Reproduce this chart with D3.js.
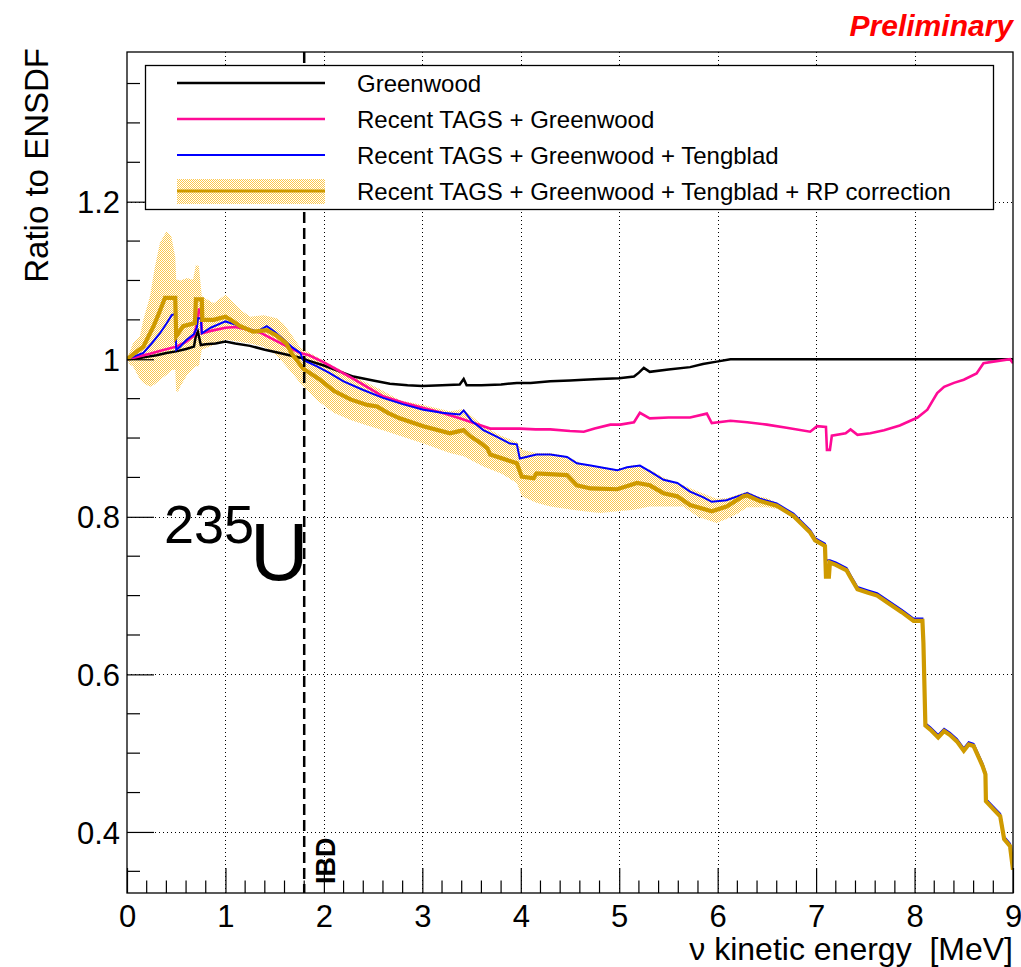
<!DOCTYPE html>
<html>
<head>
<meta charset="utf-8">
<script src="https://cdn.jsdelivr.net/npm/d3@7"></script>
<style>
  html, body { margin: 0; padding: 0; background: #fff; }
  svg { display: block; font-family: "Liberation Sans", Arial, Helvetica, sans-serif; }
</style>
</head>
<body>
<svg id="chart" width="1021" height="967"></svg>
<script>
// ---------------- DATA ----------------
const xTickValues = [0, 1, 2, 3, 4, 5, 6, 7, 8, 9];
const yTickValues = [0.4, 0.6, 0.8, 1.0, 1.2];
const yTickLabels = ["0.4", "0.6", "0.8", "1", "1.2"];
const legendLabels = [
  "Greenwood",
  "Recent TAGS + Greenwood",
  "Recent TAGS + Greenwood + Tengblad",
  "Recent TAGS + Greenwood + Tengblad + RP correction"
];
const ibdThreshold = 1.8;

// [energy MeV, ratio]
const greenwood = [[0,1.000],[0.1,1.001],[0.2,1.003],[0.3,1.005],[0.4,1.008],[0.5,1.010],[0.6,1.013],[0.68,1.016],[0.70,1.030],[0.72,1.035],[0.75,1.018],[0.8,1.019],[0.9,1.020],[1.0,1.0225],[1.1,1.020],[1.25,1.017],[1.4,1.012],[1.55,1.008],[1.65,1.005],[1.76,1.002],[1.85,0.998],[2.0,0.992],[2.15,0.985],[2.3,0.978],[2.5,0.973],[2.67,0.969],[2.85,0.967],[3.0,0.966],[3.2,0.967],[3.38,0.968],[3.42,0.975],[3.45,0.967],[3.6,0.967],[3.8,0.968],[3.96,0.970],[4.1,0.970],[4.3,0.972],[4.5,0.973],[4.64,0.974],[4.8,0.975],[5.0,0.976],[5.15,0.978],[5.2,0.983],[5.25,0.989],[5.31,0.984],[5.5,0.987],[5.72,0.990],[5.85,0.994],[5.99,0.997],[6.13,1.000],[9.0,1.000]];

const tagsGreenwood = [[0,1.0],[0.1,1.003],[0.234,1.007],[0.35,1.011],[0.5,1.016],[0.6,1.022],[0.68,1.030],[0.71,1.045],[0.73,1.063],[0.75,1.063],[0.76,1.033],[0.85,1.036],[1.0,1.040],[1.1,1.041],[1.25,1.037],[1.35,1.034],[1.49,1.025],[1.6,1.018],[1.76,1.008],[1.85,1.005],[2.0,0.996],[2.13,0.987],[2.3,0.975],[2.45,0.964],[2.6,0.953],[2.8,0.945],[3.01,0.938],[3.2,0.932],[3.38,0.925],[3.5,0.920],[3.62,0.915],[3.69,0.912],[3.99,0.912],[4.15,0.911],[4.30,0.911],[4.5,0.909],[4.64,0.908],[4.75,0.912],[4.91,0.917],[5.01,0.917],[5.15,0.920],[5.21,0.932],[5.31,0.925],[5.5,0.926],[5.72,0.926],[5.89,0.931],[5.94,0.919],[6.13,0.922],[6.3,0.920],[6.5,0.917],[6.7,0.913],[6.94,0.908],[7.01,0.915],[7.1,0.914],[7.11,0.885],[7.14,0.885],[7.16,0.903],[7.3,0.906],[7.35,0.911],[7.42,0.904],[7.55,0.906],[7.69,0.910],[7.85,0.916],[8.03,0.926],[8.13,0.936],[8.23,0.957],[8.3,0.965],[8.4,0.970],[8.5,0.974],[8.63,0.982],[8.70,0.995],[8.8,0.997],[8.97,1.0],[9.0,0.995]];

const tagsGreenwoodTengblad = [[0,1.0],[0.08,1.004],[0.166,1.008],[0.25,1.020],[0.335,1.033],[0.4,1.045],[0.454,1.056],[0.48,1.057],[0.49,1.057],[0.50,1.012],[0.54,1.016],[0.6,1.024],[0.68,1.032],[0.71,1.040],[0.72,1.052],[0.75,1.052],[0.76,1.033],[0.85,1.040],[1.0,1.048],[1.15,1.042],[1.32,1.035],[1.42,1.042],[1.5,1.035],[1.59,1.025],[1.68,1.015],[1.76,1.008],[1.79,0.999],[1.93,0.991],[2.05,0.983],[2.20,0.972],[2.4,0.961],[2.60,0.951],[2.8,0.943],[3.01,0.936],[3.2,0.932],[3.38,0.930],[3.42,0.935],[3.5,0.922],[3.62,0.910],[3.75,0.902],[3.89,0.893],[3.96,0.892],[3.99,0.874],[4.16,0.879],[4.30,0.879],[4.47,0.876],[4.57,0.868],[4.71,0.865],[4.85,0.862],[4.98,0.859],[5.08,0.863],[5.21,0.865],[5.32,0.857],[5.45,0.847],[5.59,0.843],[5.72,0.832],[5.85,0.825],[5.94,0.819],[6.09,0.821],[6.2,0.826],[6.30,0.830],[6.43,0.823],[6.60,0.817],[6.77,0.804],[6.94,0.783],[6.99,0.773],[7.09,0.766],[7.10,0.745],[7.14,0.745],[7.2,0.742],[7.31,0.735],[7.35,0.726],[7.42,0.711],[7.52,0.707],[7.62,0.703],[7.75,0.692],[7.87,0.682],[7.99,0.671],[8.08,0.671],[8.09,0.643],[8.11,0.538],[8.16,0.533],[8.24,0.523],[8.30,0.531],[8.36,0.526],[8.43,0.518],[8.50,0.506],[8.55,0.514],[8.60,0.512],[8.69,0.487],[8.72,0.476],[8.725,0.442],[8.80,0.432],[8.87,0.423],[8.91,0.394],[8.97,0.385],[9.0,0.355]];

const rpCorrected = [[0,1.0],[0.08,1.008],[0.166,1.016],[0.27,1.042],[0.33,1.060],[0.386,1.078],[0.49,1.078],[0.50,1.029],[0.57,1.042],[0.69,1.046],[0.70,1.076],[0.76,1.076],[0.765,1.050],[0.88,1.050],[1.0,1.054],[1.08,1.048],[1.15,1.042],[1.28,1.035],[1.42,1.037],[1.52,1.030],[1.62,1.020],[1.67,1.008],[1.79,0.988],[1.95,0.975],[2.10,0.960],[2.27,0.949],[2.44,0.942],[2.54,0.940],[2.65,0.932],[2.77,0.925],[3.01,0.915],[3.28,0.906],[3.42,0.910],[3.49,0.902],[3.6,0.893],[3.66,0.887],[3.69,0.879],[3.96,0.868],[4.01,0.851],[4.13,0.849],[4.16,0.855],[4.47,0.853],[4.57,0.840],[4.71,0.836],[4.98,0.835],[5.18,0.843],[5.31,0.840],[5.45,0.830],[5.59,0.826],[5.72,0.815],[5.94,0.807],[6.09,0.813],[6.26,0.826],[6.30,0.827],[6.43,0.820],[6.60,0.814],[6.77,0.801],[6.94,0.780],[6.99,0.770],[7.09,0.763],[7.10,0.724],[7.13,0.724],[7.14,0.742],[7.2,0.739],[7.31,0.732],[7.35,0.723],[7.42,0.708],[7.52,0.704],[7.62,0.700],[7.75,0.689],[7.87,0.679],[7.99,0.668],[8.08,0.668],[8.09,0.640],[8.11,0.535],[8.16,0.530],[8.24,0.520],[8.30,0.528],[8.36,0.523],[8.43,0.515],[8.50,0.503],[8.55,0.511],[8.60,0.509],[8.69,0.484],[8.72,0.473],[8.725,0.439],[8.80,0.429],[8.87,0.420],[8.91,0.391],[8.97,0.382],[9.0,0.352]];

// uncertainty band of the RP-corrected curve: [energy, low, high]
const rpBand = [[0,1.0,1.0],[0.03,0.993,1.010],[0.06,0.991,1.020],[0.13,0.975,1.029],[0.166,0.970,1.050],[0.234,0.965,1.080],[0.28,0.968,1.115],[0.335,0.974,1.148],[0.40,0.980,1.162],[0.45,0.986,1.156],[0.49,0.987,1.130],[0.50,0.959,1.101],[0.52,0.959,1.101],[0.54,0.965,1.100],[0.61,0.980,1.103],[0.67,0.988,1.101],[0.70,0.991,1.120],[0.73,0.991,1.118],[0.76,1.012,1.080],[0.88,1.018,1.071],[1.0,1.025,1.082],[1.15,1.022,1.063],[1.25,1.020,1.054],[1.39,1.016,1.056],[1.52,1.005,1.052],[1.59,0.995,1.045],[1.66,0.985,1.033],[1.76,0.970,1.015],[1.93,0.948,1.003],[2.10,0.932,0.991],[2.27,0.923,0.980],[2.44,0.916,0.970],[2.60,0.910,0.960],[2.77,0.903,0.948],[3.01,0.893,0.942],[3.28,0.881,0.934],[3.42,0.877,0.937],[3.62,0.864,0.915],[3.80,0.855,0.903],[3.96,0.843,0.895],[4.01,0.826,0.885],[4.16,0.818,0.881],[4.30,0.813,0.881],[4.47,0.810,0.877],[4.64,0.807,0.866],[4.81,0.805,0.864],[4.98,0.807,0.860],[5.15,0.809,0.866],[5.31,0.813,0.860],[5.45,0.813,0.850],[5.65,0.813,0.840],[5.80,0.800,0.832],[5.99,0.792,0.823],[6.10,0.798,0.824],[6.20,0.804,0.828],[6.30,0.812,0.832],[6.40,0.812,0.826],[6.50,0.812,0.824],[6.60,0.810,0.818]];

// ---------------- LAYOUT ----------------
const W = 1021, H = 967;
const L = 127, R = 1013, T = 52, B = 893;
const colors = { black: "#000000", pink: "#ff0a96", blue: "#0000ff", gold: "#cf9a00", band: "#fcc84e" };
const FONT = '"Liberation Sans", Arial, Helvetica, sans-serif';

const svg = d3.select("#chart");
const x = d3.scaleLinear().domain([0, 9]).range([L, R]);
const y = d3.scaleLinear().domain([0.3225, 1.39]).range([B, T]);

const defs = svg.append("defs");
const pat = defs.append("pattern").attr("id", "hatch").attr("patternUnits", "userSpaceOnUse")
  .attr("width", 2).attr("height", 2);
pat.append("rect").attr("width", 2).attr("height", 2).attr("fill", "#fff");
pat.append("rect").attr("x", 0).attr("y", 0).attr("width", 1).attr("height", 1).attr("fill", colors.band).attr("shape-rendering", "crispEdges");
pat.append("rect").attr("x", 1).attr("y", 1).attr("width", 1).attr("height", 1).attr("fill", colors.band).attr("shape-rendering", "crispEdges");
defs.append("clipPath").attr("id", "plotclip").append("rect")
  .attr("x", L).attr("y", T).attr("width", R - L).attr("height", B - T);

svg.append("rect").attr("width", W).attr("height", H).attr("fill", "#fff");

// grid
const grid = svg.append("g").attr("stroke", "#000").attr("stroke-width", 1).attr("stroke-dasharray", "1,3");
grid.selectAll("line.gx").data(xTickValues.filter(v => v > 0 && v < 9)).join("line")
  .attr("x1", d => Math.round(x(d)) + 0.5).attr("x2", d => Math.round(x(d)) + 0.5)
  .attr("y1", T).attr("y2", B);
grid.selectAll("line.gy").data(yTickValues).join("line")
  .attr("y1", d => Math.round(y(d)) + 0.5).attr("y2", d => Math.round(y(d)) + 0.5)
  .attr("x1", L).attr("x2", R);

const plot = svg.append("g").attr("clip-path", "url(#plotclip)");

// band
plot.append("path").datum(rpBand)
  .attr("fill", "url(#hatch)")
  .attr("d", d3.area().x(d => x(d[0])).y0(d => y(d[1])).y1(d => y(d[2])));

const line = d3.line().x(d => x(d[0])).y(d => y(d[1]));
const series = [
  { data: greenwood, color: colors.black, w: 2.5 },
  { data: tagsGreenwood, color: colors.pink, w: 2.6 },
  { data: tagsGreenwoodTengblad, color: colors.blue, w: 2 },
  { data: rpCorrected, color: colors.gold, w: 4.2 }
];
series.forEach(s => {
  plot.append("path").datum(s.data).attr("fill", "none")
    .attr("stroke", s.color).attr("stroke-width", s.w).attr("stroke-linejoin", "miter")
    .attr("d", line);
});

// IBD dashed line
svg.append("line").attr("x1", x(ibdThreshold)).attr("x2", x(ibdThreshold))
  .attr("y1", T).attr("y2", B).attr("stroke", "#000").attr("stroke-width", 2.5)
  .attr("stroke-dasharray", "11,5");

// axes
const xAxis = d3.axisBottom(x).tickValues(xTickValues).tickSize(-25).tickPadding(0).tickFormat(d3.format("d"));
const gx = svg.append("g").attr("transform", `translate(0,${B})`).call(xAxis);
gx.select(".domain").remove();
gx.selectAll(".tick line").attr("stroke", "#000").attr("stroke-width", 1.2);
gx.selectAll(".tick text").attr("y", 12).attr("dy", "0.71em").attr("font-size", 31).attr("font-family", FONT).attr("fill", "#000");
const xMinor = d3.range(0, 45).map(i => i * 0.2).filter(v => Math.abs(v - Math.round(v)) > 1e-6);
svg.append("g").selectAll("line").data(xMinor).join("line")
  .attr("x1", d => x(d)).attr("x2", d => x(d)).attr("y1", B).attr("y2", B - 12.5)
  .attr("stroke", "#000").attr("stroke-width", 1.2);

const yAxis = d3.axisLeft(y).tickValues(yTickValues).tickSize(-27).tickPadding(0)
  .tickFormat((d, i) => yTickLabels[i]);
const gy = svg.append("g").attr("transform", `translate(${L},0)`).call(yAxis);
gy.select(".domain").remove();
gy.selectAll(".tick line").attr("stroke", "#000").attr("stroke-width", 1.2);
gy.selectAll(".tick text").attr("x", -7).attr("dy", "0.36em").attr("font-size", 31).attr("font-family", FONT).attr("fill", "#000");
const yMinor = d3.range(7, 28).map(i => i * 0.05).filter(v => v > 0.3225 && v < 1.39 && Math.abs(v * 5 - Math.round(v * 5)) > 1e-6);
svg.append("g").selectAll("line").data(yMinor).join("line")
  .attr("x1", L).attr("x2", L + 13).attr("y1", d => y(d)).attr("y2", d => y(d))
  .attr("stroke", "#000").attr("stroke-width", 1.2);

// frame
svg.append("rect").attr("x", L).attr("y", T).attr("width", R - L).attr("height", B - T)
  .attr("fill", "none").attr("stroke", "#000").attr("stroke-width", 1.3);

// axis titles
svg.append("text").attr("x", R).attr("y", 960).attr("text-anchor", "end")
  .attr("font-size", 32).attr("font-family", FONT)
  .style("white-space", "pre").text("\u03bd kinetic energy  [MeV]");
svg.append("text").attr("transform", `translate(48,${T - 4}) rotate(-90)`).attr("text-anchor", "end")
  .attr("font-size", 33).attr("font-family", FONT).text("Ratio to ENSDF");

// Preliminary
svg.append("text").attr("x", R).attr("y", 36).attr("text-anchor", "end")
  .attr("font-size", 30).attr("font-weight", "bold").attr("font-style", "italic")
  .attr("fill", "#ff0000").attr("font-family", FONT).text("Preliminary");

// 235U
svg.append("text").attr("x", 164).attr("y", 543).attr("font-size", 54).attr("font-family", FONT).text("235");
svg.append("text").attr("x", 250).attr("y", 580).attr("font-size", 81).attr("font-family", FONT).text("U");

// IBD label
svg.append("text").attr("transform", `translate(335,884) rotate(-90)`)
  .attr("font-size", 27).attr("font-weight", "bold").attr("font-family", FONT).text("IBD");

// legend
const lg = svg.append("g");
lg.append("rect").attr("x", 145.5).attr("y", 65.5).attr("width", 848).attr("height", 144)
  .attr("fill", "#fff").attr("stroke", "#000").attr("stroke-width", 1.3);
const legendY = [83, 119, 155, 191];
const legendColors = [colors.black, colors.pink, colors.blue, colors.gold];
const legendW = [2.5, 2.6, 2.2, 3];
lg.append("rect").attr("x", 177).attr("y", 179).attr("width", 148).attr("height", 25).attr("fill", "url(#hatch)");
legendLabels.forEach((t, i) => {
  lg.append("line").attr("x1", 177).attr("x2", 325).attr("y1", legendY[i]).attr("y2", legendY[i])
    .attr("stroke", legendColors[i]).attr("stroke-width", legendW[i]);
  lg.append("text").attr("x", 357).attr("y", legendY[i]).attr("dy", "0.36em")
    .attr("font-size", 24).attr("font-family", FONT).text(t);
});
</script>
</body>
</html>
